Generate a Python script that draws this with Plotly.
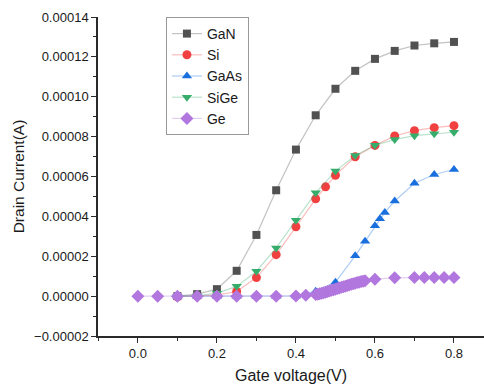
import plotly.graph_objects as go

# ---- data ----
gan_x = [0.1, 0.15, 0.2, 0.25, 0.3, 0.35, 0.4, 0.45, 0.5, 0.55, 0.6, 0.65, 0.7, 0.75, 0.8]
gan_y = [0.0, 1.0e-6, 3.5e-6, 1.27e-5, 3.07e-5, 5.31e-5, 7.35e-5, 9.07e-5, 1.04e-4,
         1.13e-4, 1.19e-4, 1.23e-4, 1.257e-4, 1.268e-4, 1.275e-4]

si_x = [0.1, 0.15, 0.2, 0.25, 0.3, 0.35, 0.4, 0.45, 0.475, 0.5, 0.55, 0.6, 0.65, 0.7, 0.75, 0.8]
si_y = [-0.3e-6, 0.0, 0.5e-6, 2.3e-6, 9.3e-6, 2.08e-5, 3.48e-5, 4.88e-5, 5.48e-5, 6.06e-5,
        6.99e-5, 7.56e-5, 8.03e-5, 8.3e-5, 8.45e-5, 8.55e-5]

gaas_x = [0.1, 0.15, 0.2, 0.25, 0.3, 0.35, 0.4, 0.45, 0.5, 0.55, 0.575, 0.6, 0.6125,
          0.625, 0.65, 0.7, 0.75, 0.8]
gaas_y = [0.0, 0.0, 0.0, 0.0, 0.0, 0.0, 0.1e-6, 2.5e-6, 7.0e-6, 2.02e-5, 2.75e-5, 3.53e-5,
          3.88e-5, 4.2e-5, 4.77e-5, 5.66e-5, 6.1e-5, 6.35e-5]

sige_x = [0.1, 0.15, 0.2, 0.25, 0.3, 0.35, 0.4, 0.45, 0.5, 0.55, 0.6, 0.65, 0.7, 0.75, 0.8]
sige_y = [0.0, 0.2e-6, 1.5e-6, 4.9e-6, 1.25e-5, 2.42e-5, 3.8e-5, 5.18e-5, 6.27e-5,
          7.05e-5, 7.57e-5, 7.85e-5, 8.05e-5, 8.15e-5, 8.22e-5]

ge_x = [0.0, 0.05, 0.1, 0.15, 0.2, 0.25, 0.3, 0.35, 0.4, 0.425,
        0.45, 0.455, 0.46, 0.465, 0.47, 0.475, 0.48, 0.485, 0.49, 0.495,
        0.5, 0.505, 0.51, 0.515, 0.52, 0.525, 0.53, 0.535, 0.54, 0.545,
        0.55, 0.555, 0.56, 0.565, 0.57, 0.575,
        0.6, 0.65, 0.7, 0.725, 0.75, 0.775, 0.8]
ge_y = [0.0, 0.0, 0.0, 0.0, 0.0, 0.0, 0.0, 0.0, 0.1e-6, 0.4e-6,
        0.8e-6, 1.0e-6, 1.2e-6, 1.4e-6, 1.7e-6, 2.0e-6, 2.3e-6, 2.6e-6, 2.9e-6, 3.2e-6,
        3.5e-6, 3.8e-6, 4.1e-6, 4.4e-6, 4.7e-6, 5.0e-6, 5.3e-6, 5.6e-6, 5.9e-6, 6.2e-6,
        6.5e-6, 6.8e-6, 7.0e-6, 7.3e-6, 7.5e-6, 7.7e-6,
        8.5e-6, 9.2e-6, 9.3e-6, 9.3e-6, 9.3e-6, 9.3e-6, 9.3e-6]

series = [
    ("GaN", gan_x, gan_y, "#515151", "rgba(81,81,81,0.35)", "square", 8),
    ("Si", si_x, si_y, "#F14040", "rgba(241,64,64,0.35)", "circle", 9),
    ("GaAs", gaas_x, gaas_y, "#1A6FDF", "rgba(26,111,223,0.35)", "triangle-up", 9),
    ("SiGe", sige_x, sige_y, "#37AD6B", "rgba(55,173,107,0.35)", "triangle-down", 9),
    ("Ge", ge_x, ge_y, "#B177DE", "rgba(177,119,222,0.35)", "diamond", 10),
]

fig = go.Figure()
for name, xs, ys, mc, lc, sym, sz in series:
    fig.add_trace(go.Scatter(
        x=xs, y=ys, name=name, mode="lines+markers",
        line=dict(color=lc, width=1.2),
        marker=dict(color=mc, symbol=sym, size=sz, line=dict(width=0)),
    ))

font_family = "Liberation Sans, Arial, sans-serif"
axis_common = dict(
    showline=True, linecolor="#2a2a2a", linewidth=1.5,
    ticks="outside", ticklen=5, tickwidth=1.3, tickcolor="#2a2a2a",
    showgrid=False, zeroline=False, mirror=False,
    tickfont=dict(family=font_family, size=13, color="#1a1a1a"),
)

fig.update_layout(
    width=484, height=386,
    margin=dict(l=98, r=0, t=17, b=50),
    paper_bgcolor="white", plot_bgcolor="white",
    font=dict(family=font_family, color="#1a1a1a"),
    xaxis=dict(
        range=[-0.101, 0.876], tickvals=[0.0, 0.2, 0.4, 0.6, 0.8],
        ticktext=["0.0", "0.2", "0.4", "0.6", "0.8"],
        minor=dict(dtick=0.1, tick0=0, ticks="outside", ticklen=3, tickcolor="#2a2a2a"),
        title=dict(text="Gate voltage(V)", font=dict(size=16, family=font_family, color="#1a1a1a"), standoff=9),
        **axis_common,
    ),
    yaxis=dict(
        range=[-0.00002, 0.00014], dtick=0.00002, tick0=0, tickformat=".5f",
        minor=dict(dtick=0.00001, tick0=0, ticks="outside", ticklen=3, tickcolor="#2a2a2a"),
        title=dict(text="Drain Current(A)", font=dict(size=15.5, family=font_family, color="#1a1a1a"), standoff=6),
        **axis_common,
    ),
    legend=dict(
        x=0.176, y=1.0, xanchor="left", yanchor="top",
        bgcolor="white", bordercolor="#999999", borderwidth=1,
        font=dict(family=font_family, size=14, color="#1a1a1a"),
        tracegroupgap=0, itemwidth=30,
    ),
    showlegend=True,
)

fig.write_html("out.html")
